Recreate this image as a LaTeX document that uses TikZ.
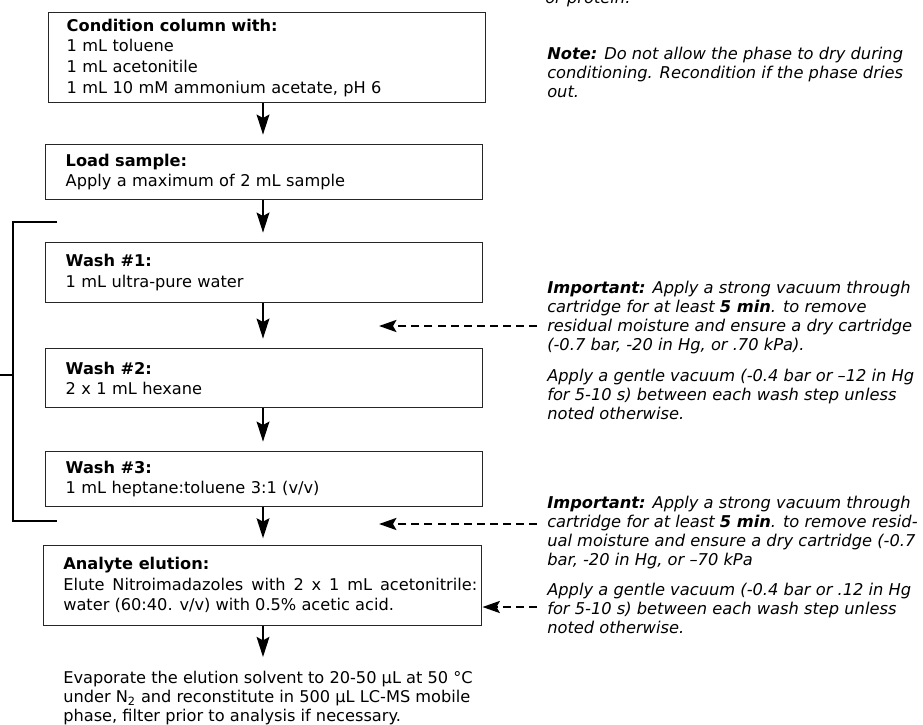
\documentclass[tikz,border=0pt]{standalone}
\usepackage{fontspec}
\setmainfont{DejaVu Sans}
\usetikzlibrary{arrows.meta}
\def\pxu{0.75pt}
\newcommand\boxfont{\fontsize{12.15pt}{15.4pt}\selectfont}
\newcommand\sidefont{\fontsize{12.2pt}{14.25pt}\selectfont\itshape}
\begin{document}
\begin{tikzpicture}[x=0.75pt,y=-0.75pt,
  box/.style={draw=black!85, line width=1.1pt, anchor=north west, align=left, inner ysep=0pt, font=\boxfont, text=black},
  arr/.style={line width=1.8pt, -{Stealth[length=15pt,width=9.5pt,inset=2.5pt]}, shorten >=7pt},
  dasharr/.style={line width=1.9pt, dash pattern=on 6pt off 3.8pt, -{Stealth[length=13pt,width=9pt,inset=2.5pt]}},
  side/.style={anchor=north west, inner sep=0pt, align=left, font=\sidefont, text=black},
  bracketline/.style={line width=1.9pt}]
\useasboundingbox (0,0) rectangle (923,724);

% process boxes
\node[box, minimum width=437*\pxu, minimum height=90*\pxu, inner xsep=18*\pxu, text width=401*\pxu] (cond) at (48,12)
  {\textbf{Condition column with:}\\1 mL toluene\\1 mL acetonitile\\1 mL 10 mM ammonium acetate, pH 6};
\node[box, minimum width=437*\pxu, minimum height=55*\pxu, inner xsep=20*\pxu, text width=397*\pxu] (load) at (45,144)
  {\textbf{Load sample:}\\Apply a maximum of 2 mL sample};
\node[box, minimum width=437*\pxu, minimum height=60*\pxu, inner xsep=20*\pxu, text width=397*\pxu] (w1) at (45,242)
  {\textbf{Wash \#1:}\\1 mL ultra-pure water};
\node[box, minimum width=437*\pxu, minimum height=59*\pxu, inner xsep=20*\pxu, text width=397*\pxu] (w2) at (45,348)
  {\textbf{Wash \#2:}\\2 x 1 mL hexane};
\node[box, minimum width=437*\pxu, minimum height=55*\pxu, inner xsep=20*\pxu, text width=397*\pxu] (w3) at (45,451)
  {\textbf{Wash \#3:}\\1 mL heptane:toluene 3:1 (v/v)};
\node[box, minimum width=438*\pxu, minimum height=80*\pxu] (ana) at (43,545) {};
\node[anchor=west, inner sep=0pt, font=\boxfont, text=black] (anatxt) at (63,585)
  {\vbox{\baselineskip=15.4pt
   \hbox{\textbf{Analyte elution:}}
   \hbox to 310.5pt{Elute\hfill Nitroimadazoles\hfill with\hfill 2\hfill x\hfill 1\hfill mL\hfill acetonitrile:}
   \hbox{water (60:40. v/v) with 0.5\% acetic acid.}}};
\node[anchor=north west, inner sep=0pt, align=left, font=\fontsize{12.15pt}{14.1pt}\selectfont, text=black] (evap) at (63,671)
  {Evaporate the elution solvent to 20-50 µL at 50 °C\\under N\textsubscript{2} and reconstitute in 500 µL LC-MS mobile\\phase, filter prior to analysis if necessary.};

% side notes
\node[side, anchor=base west] (orp) at (545,4) {or protein.};
\node[side] (note) at (547,47)
  {\textbf{Note:} Do not allow the phase to dry during\\conditioning. Recondition if the phase dries\\out.};
\node[side] (imp1) at (547,281)
  {\textbf{Important:} Apply a strong vacuum through\\cartridge for at least \textbf{5 min}. to remove\\residual moisture and ensure a dry cartridge\\(-0.7 bar, -20 in Hg, or .70 kPa).};
\node[side] (gen1) at (547,369)
  {Apply a gentle vacuum (-0.4 bar or –12 in Hg\\for 5-10 s) between each wash step unless\\noted otherwise.};
\node[side] (imp2) at (547,495.5)
  {\textbf{Important:} Apply a strong vacuum through\\cartridge for at least \textbf{5 min}. to remove resid-\\ual moisture and ensure a dry cartridge (-0.7\\bar, -20 in Hg, or –70 kPa};
\node[side] (gen2) at (547,582.5)
  {Apply a gentle vacuum (-0.4 bar or .12 in Hg\\for 5-10 s) between each wash step unless\\noted otherwise.};

% main flow arrows
\coordinate (ax) at (263,0);
\draw[arr] (cond.south -| ax) -- (load.north -| ax);
\draw[arr] (load.south -| ax) -- (w1.north -| ax);
\draw[arr] (w1.south -| ax) -- (w2.north -| ax);
\draw[arr] (w2.south -| ax) -- (w3.north -| ax);
\draw[arr, shorten >=5pt] (w3.south -| ax) -- (ana.north -| ax);
\draw[arr, shorten >=10.5pt] (ana.south -| ax) -- (evap.north -| ax);

% dashed arrows
\coordinate (d1a) at (537,326);
\coordinate (d1b) at (379,326);
\coordinate (d2a) at (537,524);
\coordinate (d2b) at (379,524);
\coordinate (d3a) at (537,607);
\draw[dasharr] (d1a) -- (d1b);
\draw[dasharr] (d2a) -- (d2b);
\draw[dasharr] (d3a) -- (ana.east |- d3a);

% bracket
\draw[bracketline] (57,222) -- (13,222) -- (13,521) -- (57,521);
\draw[bracketline] (13,375) -- (0,375);
\end{tikzpicture}
\end{document}
